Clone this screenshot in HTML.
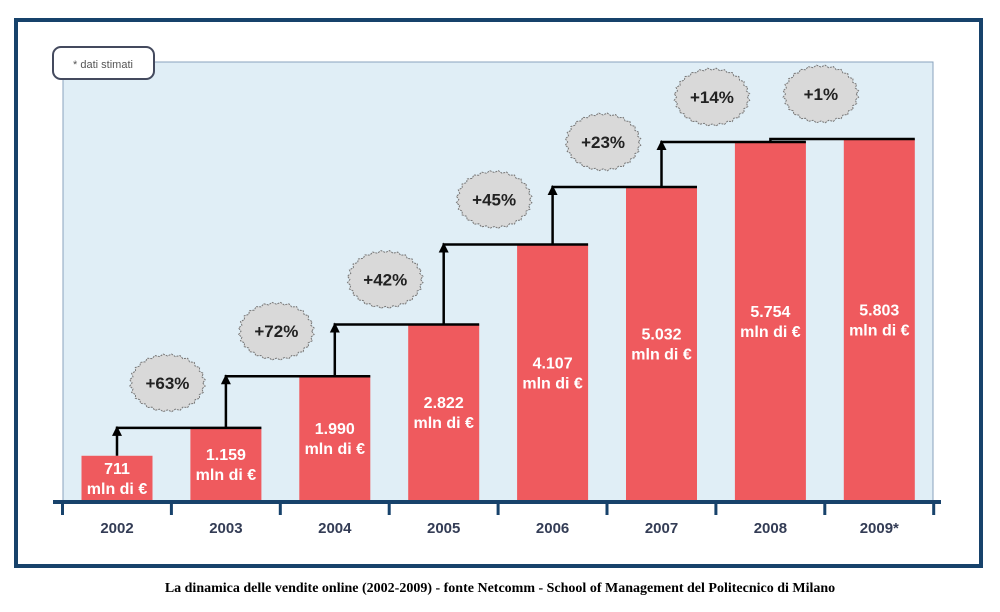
<!DOCTYPE html>
<html><head><meta charset="utf-8"><style>
body{margin:0;background:#fff;}
svg{display:block;font-family:"Liberation Sans",sans-serif;}
</style></head><body>
<svg id="c" width="1000" height="612">
<rect x="16" y="20" width="965" height="546" fill="#fff" stroke="#17426b" stroke-width="4"/>
<rect x="63" y="62" width="870" height="440" fill="#e0eef6" stroke="#8aa3bd" stroke-width="1"/>
<rect x="53" y="47" width="101" height="32" rx="8" fill="#fff" stroke="#444a5e" stroke-width="2"/>
<text x="103" y="68" font-size="11" fill="#555" text-anchor="middle">* dati stimati</text>
<g id="marks"></g>
<rect x="53" y="500" width="888" height="4" fill="#17426b"/>
<text x="500" y="592" font-family="Liberation Serif,serif" font-weight="bold" font-size="14" text-anchor="middle" fill="#000">La dinamica delle vendite online (2002-2009) - fonte Netcomm - School of Management del Politecnico di Milano</text>
</svg>
<script>
const categories=["2002","2003","2004","2005","2006","2007","2008","2009*"];
const values=[711,1159,1990,2822,4107,5032,5754,5803];
const valueLabels=["711","1.159","1.990","2.822","4.107","5.032","5.754","5.803"];
const growth=["+63%","+72%","+42%","+45%","+23%","+14%","+1%"];
const NS="http://www.w3.org/2000/svg";
const g=document.getElementById('marks');
const base=500, maxV=5803, maxH=361;
const y=v=>base-v/maxV*maxH;
const cx=i=>117+i*108.9;
const bw=71;
function el(t,a){const e=document.createElementNS(NS,t);for(const k in a)e.setAttribute(k,a[k]);g.appendChild(e);return e;}
for(let i=0;i<=8;i++){const t=el('rect',{x:cx(i)-54.5-1.5,y:502,width:3,height:13,fill:'#17426b'});

}
values.forEach((v,i)=>{
 const top=y(v), h=base-top;
 const b=el('rect',{x:cx(i)-bw/2,y:top,width:bw,height:h,fill:'#ef5a5e'});
 
 
 const ly=top+Math.max(h/2-10,12)+6;
 const t1=el('text',{x:cx(i),y:ly,'font-size':16,'font-weight':'bold',fill:'#fff','text-anchor':'middle'});
 t1.textContent=valueLabels[i];
 
 
 const t2=el('text',{x:cx(i),y:ly+20,'font-size':16,'font-weight':'bold',fill:'#fff','text-anchor':'middle'});
 t2.textContent='mln di €';
 
 
 const xl=el('text',{x:cx(i),y:533,'font-size':15,'font-weight':'bold',fill:'#333c55','text-anchor':'middle'});
 xl.textContent=categories[i];
 
 
});
for(let i=1;i<values.length;i++){
 const yt=y(values[i]), yp=y(values[i-1]);
 const p=el('polyline',{points:`${cx(i-1)},${yp} ${cx(i-1)},${yt} ${cx(i)+bw/2},${yt}`,fill:'none',stroke:'#000','stroke-width':2.5});
 
 
 if(yp-yt>8){
 const a=el('polygon',{points:`${cx(i-1)-5},${yt+8} ${cx(i-1)+5},${yt+8} ${cx(i-1)},${yt-2}`,fill:'#000'});
 
 }
 const bx=(cx(i-1)+cx(i))/2-4, by=yt-45;
 let pts=[];const n=56;
 for(let k=0;k<n;k++){const ang=k/n*2*Math.PI;const r=k%2?1:0.93;pts.push((bx+38*r*Math.cos(ang)).toFixed(1)+','+(by+29*r*Math.sin(ang)).toFixed(1));}
 const s=el('polygon',{points:pts.join(' '),fill:'#d9d9d9',stroke:'#777','stroke-width':1,'stroke-dasharray':'2 1'});
 
 
 const gt=el('text',{x:bx,y:by+6,'font-size':17,'font-weight':'bold',fill:'#222','text-anchor':'middle'});
 gt.textContent=growth[i-1];
 
 
}
</script>
</body></html>
